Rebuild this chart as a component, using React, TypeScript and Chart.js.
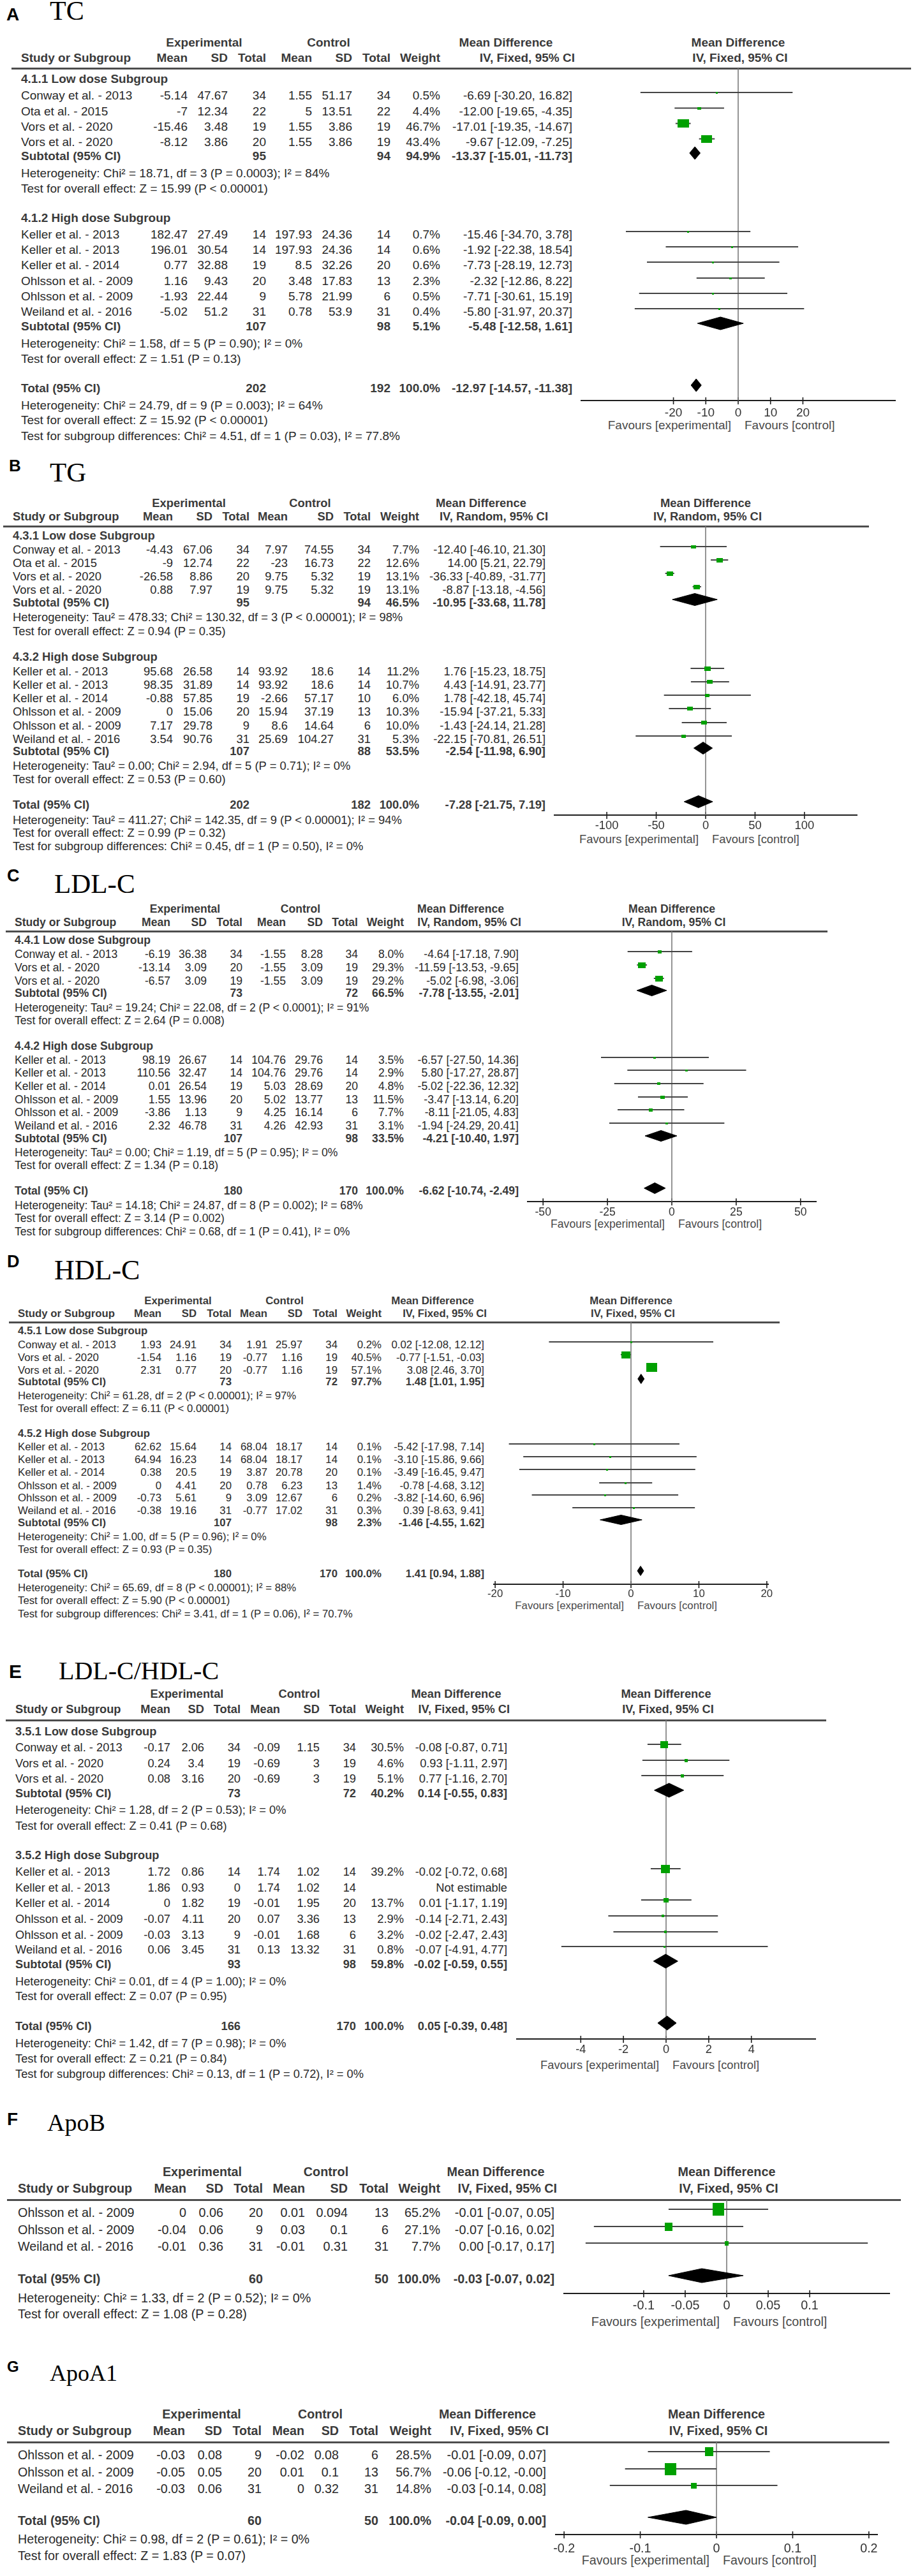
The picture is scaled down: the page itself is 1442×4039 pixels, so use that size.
import React, { useEffect, useRef } from 'react';
import { Chart, registerables } from 'chart.js';

Chart.register(...registerables);

// [name, expMean, expSD, expN, ctlMean, ctlSD, ctlN, weight%, MD, lower, upper]
type Study = [string, number, number, number, number, number, number, number | null, number | null, number | null, number | null];
// [expN, ctlN, weight%, MD, lower, upper]
type Summary = [number, number, number, number, number, number];

// ---------------- A: TC ----------------
const tcLowStudies: Study[] = [
  ['Conway et al. - 2013', -5.14, 47.67, 34, 1.55, 51.17, 34, 0.5, -6.69, -30.2, 16.82],
  ['Ota et al. - 2015', -7, 12.34, 22, 5, 13.51, 22, 4.4, -12.0, -19.65, -4.35],
  ['Vors et al. - 2020', -15.46, 3.48, 19, 1.55, 3.86, 19, 46.7, -17.01, -19.35, -14.67],
  ['Vors et al. - 2020', -8.12, 3.86, 20, 1.55, 3.86, 19, 43.4, -9.67, -12.09, -7.25],
];
const tcLowSubtotal: Summary = [95, 94, 94.9, -13.37, -15.01, -11.73];
const tcLowStats = ['Heterogeneity: Chi² = 18.71, df = 3 (P = 0.0003); I² = 84%', 'Test for overall effect: Z = 15.99 (P < 0.00001)'];
const tcHighStudies: Study[] = [
  ['Keller et al. - 2013', 182.47, 27.49, 14, 197.93, 24.36, 14, 0.7, -15.46, -34.7, 3.78],
  ['Keller et al. - 2013', 196.01, 30.54, 14, 197.93, 24.36, 14, 0.6, -1.92, -22.38, 18.54],
  ['Keller et al. - 2014', 0.77, 32.88, 19, 8.5, 32.26, 20, 0.6, -7.73, -28.19, 12.73],
  ['Ohlsson et al. - 2009', 1.16, 9.43, 20, 3.48, 17.83, 13, 2.3, -2.32, -12.86, 8.22],
  ['Ohlsson et al. - 2009', -1.93, 22.44, 9, 5.78, 21.99, 6, 0.5, -7.71, -30.61, 15.19],
  ['Weiland et al. - 2016', -5.02, 51.2, 31, 0.78, 53.9, 31, 0.4, -5.8, -31.97, 20.37],
];
const tcHighSubtotal: Summary = [107, 98, 5.1, -5.48, -12.58, 1.61];
const tcHighStats = ['Heterogeneity: Chi² = 1.58, df = 5 (P = 0.90); I² = 0%', 'Test for overall effect: Z = 1.51 (P = 0.13)'];
const tcTotal: Summary = [202, 192, 100.0, -12.97, -14.57, -11.38];
const tcTotalStats = ['Heterogeneity: Chi² = 24.79, df = 9 (P = 0.003); I² = 64%', 'Test for overall effect: Z = 15.92 (P < 0.00001)', 'Test for subgroup differences: Chi² = 4.51, df = 1 (P = 0.03), I² = 77.8%'];
const tcTicks = [-20, -10, 0, 10, 20];

// ---------------- B: TG ----------------
const tgLowStudies: Study[] = [
  ['Conway et al. - 2013', -4.43, 67.06, 34, 7.97, 74.55, 34, 7.7, -12.4, -46.1, 21.3],
  ['Ota et al. - 2015', -9, 12.74, 22, -23, 16.73, 22, 12.6, 14.0, 5.21, 22.79],
  ['Vors et al. - 2020', -26.58, 8.86, 20, 9.75, 5.32, 19, 13.1, -36.33, -40.89, -31.77],
  ['Vors et al. - 2020', 0.88, 7.97, 19, 9.75, 5.32, 19, 13.1, -8.87, -13.18, -4.56],
];
const tgLowSubtotal: Summary = [95, 94, 46.5, -10.95, -33.68, 11.78];
const tgLowStats = ['Heterogeneity: Tau² = 478.33; Chi² = 130.32, df = 3 (P < 0.00001); I² = 98%', 'Test for overall effect: Z = 0.94 (P = 0.35)'];
const tgHighStudies: Study[] = [
  ['Keller et al. - 2013', 95.68, 26.58, 14, 93.92, 18.6, 14, 11.2, 1.76, -15.23, 18.75],
  ['Keller et al. - 2013', 98.35, 31.89, 14, 93.92, 18.6, 14, 10.7, 4.43, -14.91, 23.77],
  ['Keller et al. - 2014', -0.88, 57.85, 19, -2.66, 57.17, 10, 6.0, 1.78, -42.18, 45.74],
  ['Ohlsson et al. - 2009', 0, 15.06, 20, 15.94, 37.19, 13, 10.3, -15.94, -37.21, 5.33],
  ['Ohlsson et al. - 2009', 7.17, 29.78, 9, 8.6, 14.64, 6, 10.0, -1.43, -24.14, 21.28],
  ['Weiland et al. - 2016', 3.54, 90.76, 31, 25.69, 104.27, 31, 5.3, -22.15, -70.81, 26.51],
];
const tgHighSubtotal: Summary = [107, 88, 53.5, -2.54, -11.98, 6.9];
const tgHighStats = ['Heterogeneity: Tau² = 0.00; Chi² = 2.94, df = 5 (P = 0.71); I² = 0%', 'Test for overall effect: Z = 0.53 (P = 0.60)'];
const tgTotal: Summary = [202, 182, 100.0, -7.28, -21.75, 7.19];
const tgTotalStats = ['Heterogeneity: Tau² = 411.27; Chi² = 142.35, df = 9 (P < 0.00001); I² = 94%', 'Test for overall effect: Z = 0.99 (P = 0.32)', 'Test for subgroup differences: Chi² = 0.45, df = 1 (P = 0.50), I² = 0%'];
const tgTicks = [-100, -50, 0, 50, 100];

// ---------------- C: LDL-C ----------------
const ldlLowStudies: Study[] = [
  ['Conway et al. - 2013', -6.19, 36.38, 34, -1.55, 8.28, 34, 8.0, -4.64, -17.18, 7.9],
  ['Vors et al. - 2020', -13.14, 3.09, 20, -1.55, 3.09, 19, 29.3, -11.59, -13.53, -9.65],
  ['Vors et al. - 2020', -6.57, 3.09, 19, -1.55, 3.09, 19, 29.2, -5.02, -6.98, -3.06],
];
const ldlLowSubtotal: Summary = [73, 72, 66.5, -7.78, -13.55, -2.01];
const ldlLowStats = ['Heterogeneity: Tau² = 19.24; Chi² = 22.08, df = 2 (P < 0.0001); I² = 91%', 'Test for overall effect: Z = 2.64 (P = 0.008)'];
const ldlHighStudies: Study[] = [
  ['Keller et al. - 2013', 98.19, 26.67, 14, 104.76, 29.76, 14, 3.5, -6.57, -27.5, 14.36],
  ['Keller et al. - 2013', 110.56, 32.47, 14, 104.76, 29.76, 14, 2.9, 5.8, -17.27, 28.87],
  ['Keller et al. - 2014', 0.01, 26.54, 19, 5.03, 28.69, 20, 4.8, -5.02, -22.36, 12.32],
  ['Ohlsson et al. - 2009', 1.55, 13.96, 20, 5.02, 13.77, 13, 11.5, -3.47, -13.14, 6.2],
  ['Ohlsson et al. - 2009', -3.86, 1.13, 9, 4.25, 16.14, 6, 7.7, -8.11, -21.05, 4.83],
  ['Weiland et al. - 2016', 2.32, 46.78, 31, 4.26, 42.93, 31, 3.1, -1.94, -24.29, 20.41],
];
const ldlHighSubtotal: Summary = [107, 98, 33.5, -4.21, -10.4, 1.97];
const ldlHighStats = ['Heterogeneity: Tau² = 0.00; Chi² = 1.19, df = 5 (P = 0.95); I² = 0%', 'Test for overall effect: Z = 1.34 (P = 0.18)'];
const ldlTotal: Summary = [180, 170, 100.0, -6.62, -10.74, -2.49];
const ldlTotalStats = ['Heterogeneity: Tau² = 14.18; Chi² = 24.87, df = 8 (P = 0.002); I² = 68%', 'Test for overall effect: Z = 3.14 (P = 0.002)', 'Test for subgroup differences: Chi² = 0.68, df = 1 (P = 0.41), I² = 0%'];
const ldlTicks = [-50, -25, 0, 25, 50];

// ---------------- D: HDL-C ----------------
const hdlLowStudies: Study[] = [
  ['Conway et al. - 2013', 1.93, 24.91, 34, 1.91, 25.97, 34, 0.2, 0.02, -12.08, 12.12],
  ['Vors et al. - 2020', -1.54, 1.16, 19, -0.77, 1.16, 19, 40.5, -0.77, -1.51, -0.03],
  ['Vors et al. - 2020', 2.31, 0.77, 20, -0.77, 1.16, 19, 57.1, 3.08, 2.46, 3.7],
];
const hdlLowSubtotal: Summary = [73, 72, 97.7, 1.48, 1.01, 1.95];
const hdlLowStats = ['Heterogeneity: Chi² = 61.28, df = 2 (P < 0.00001); I² = 97%', 'Test for overall effect: Z = 6.11 (P < 0.00001)'];
const hdlHighStudies: Study[] = [
  ['Keller et al. - 2013', 62.62, 15.64, 14, 68.04, 18.17, 14, 0.1, -5.42, -17.98, 7.14],
  ['Keller et al. - 2013', 64.94, 16.23, 14, 68.04, 18.17, 14, 0.1, -3.1, -15.86, 9.66],
  ['Keller et al. - 2014', 0.38, 20.5, 19, 3.87, 20.78, 20, 0.1, -3.49, -16.45, 9.47],
  ['Ohlsson et al. - 2009', 0, 4.41, 20, 0.78, 6.23, 13, 1.4, -0.78, -4.68, 3.12],
  ['Ohlsson et al. - 2009', -0.73, 5.61, 9, 3.09, 12.67, 6, 0.2, -3.82, -14.6, 6.96],
  ['Weiland et al. - 2016', -0.38, 19.16, 31, -0.77, 17.02, 31, 0.3, 0.39, -8.63, 9.41],
];
const hdlHighSubtotal: Summary = [107, 98, 2.3, -1.46, -4.55, 1.62];
const hdlHighStats = ['Heterogeneity: Chi² = 1.00, df = 5 (P = 0.96); I² = 0%', 'Test for overall effect: Z = 0.93 (P = 0.35)'];
const hdlTotal: Summary = [180, 170, 100.0, 1.41, 0.94, 1.88];
const hdlTotalStats = ['Heterogeneity: Chi² = 65.69, df = 8 (P < 0.00001); I² = 88%', 'Test for overall effect: Z = 5.90 (P < 0.00001)', 'Test for subgroup differences: Chi² = 3.41, df = 1 (P = 0.06), I² = 70.7%'];
const hdlTicks = [-20, -10, 0, 10, 20];

// ---------------- E: LDL-C/HDL-C ----------------
const ratioLowStudies: Study[] = [
  ['Conway et al. - 2013', -0.17, 2.06, 34, -0.09, 1.15, 34, 30.5, -0.08, -0.87, 0.71],
  ['Vors et al. - 2020', 0.24, 3.4, 19, -0.69, 3, 19, 4.6, 0.93, -1.11, 2.97],
  ['Vors et al. - 2020', 0.08, 3.16, 20, -0.69, 3, 19, 5.1, 0.77, -1.16, 2.7],
];
const ratioLowSubtotal: Summary = [73, 72, 40.2, 0.14, -0.55, 0.83];
const ratioLowStats = ['Heterogeneity: Chi² = 1.28, df = 2 (P = 0.53); I² = 0%', 'Test for overall effect: Z = 0.41 (P = 0.68)'];
const ratioHighStudies: Study[] = [
  ['Keller et al. - 2013', 1.72, 0.86, 14, 1.74, 1.02, 14, 39.2, -0.02, -0.72, 0.68],
  ['Keller et al. - 2013', 1.86, 0.93, 0, 1.74, 1.02, 14, null, null, null, null],
  ['Keller et al. - 2014', 0, 1.82, 19, -0.01, 1.95, 20, 13.7, 0.01, -1.17, 1.19],
  ['Ohlsson et al. - 2009', -0.07, 4.11, 20, 0.07, 3.36, 13, 2.9, -0.14, -2.71, 2.43],
  ['Ohlsson et al. - 2009', -0.03, 3.13, 9, -0.01, 1.68, 6, 3.2, -0.02, -2.47, 2.43],
  ['Weiland et al. - 2016', 0.06, 3.45, 31, 0.13, 13.32, 31, 0.8, -0.07, -4.91, 4.77],
];
const ratioHighSubtotal: Summary = [93, 98, 59.8, -0.02, -0.59, 0.55];
const ratioHighStats = ['Heterogeneity: Chi² = 0.01, df = 4 (P = 1.00); I² = 0%', 'Test for overall effect: Z = 0.07 (P = 0.95)'];
const ratioTotal: Summary = [166, 170, 100.0, 0.05, -0.39, 0.48];
const ratioTotalStats = ['Heterogeneity: Chi² = 1.42, df = 7 (P = 0.98); I² = 0%', 'Test for overall effect: Z = 0.21 (P = 0.84)', 'Test for subgroup differences: Chi² = 0.13, df = 1 (P = 0.72), I² = 0%'];
const ratioTicks = [-4, -2, 0, 2, 4];

// ---------------- F: ApoB ----------------
const apobStudies: Study[] = [
  ['Ohlsson et al. - 2009', 0, 0.06, 20, 0.01, 0.094, 13, 65.2, -0.01, -0.07, 0.05],
  ['Ohlsson et al. - 2009', -0.04, 0.06, 9, 0.03, 0.1, 6, 27.1, -0.07, -0.16, 0.02],
  ['Weiland et al. - 2016', -0.01, 0.36, 31, -0.01, 0.31, 31, 7.7, 0.0, -0.17, 0.17],
];
const apobTotal: Summary = [60, 50, 100.0, -0.03, -0.07, 0.02];
const apobTotalStats = ['Heterogeneity: Chi² = 1.33, df = 2 (P = 0.52); I² = 0%', 'Test for overall effect: Z = 1.08 (P = 0.28)'];
const apobTicks = [-0.1, -0.05, 0, 0.05, 0.1];

// ---------------- G: ApoA1 ----------------
const apoa1Studies: Study[] = [
  ['Ohlsson et al. - 2009', -0.03, 0.08, 9, -0.02, 0.08, 6, 28.5, -0.01, -0.09, 0.07],
  ['Ohlsson et al. - 2009', -0.05, 0.05, 20, 0.01, 0.1, 13, 56.7, -0.06, -0.12, -0],
  ['Weiland et al. - 2016', -0.03, 0.06, 31, 0, 0.32, 31, 14.8, -0.03, -0.14, 0.08],
];
const apoa1Total: Summary = [60, 50, 100.0, -0.04, -0.09, 0.0];
const apoa1TotalStats = ['Heterogeneity: Chi² = 0.98, df = 2 (P = 0.61); I² = 0%', 'Test for overall effect: Z = 1.83 (P = 0.07)'];
const apoa1Ticks = [-0.2, -0.1, 0, 0.1, 0.2];

// ---------------- rendering ----------------
const SANS = '"Liberation Sans", Arial, Helvetica, sans-serif';
const SERIF = '"Liberation Serif", "Times New Roman", Times, serif';
const GREEN = '#00a000';
const TEXT = '#2a2a2a';
const HEAD = '#3a3a3a';

interface Group { title?: string; studies: Study[]; subtotal?: Summary; stats: string[] }
interface PanelData { letter: string; title: string; ciLabel: string; groups: Group[]; total: Summary; totalStats: string[]; ticks: number[] }
interface GroupRows { titleY?: number; studyY: number[]; subY?: number; statY: number[] }
interface PanelLayout {
  letterX: number; letterY: number; letterSize: number;
  titleX: number; titleY: number; titleSize: number;
  font: number; cols: number[]; head: number[]; headY: number[];
  lineY: number; lineX: number[];
  zeroX: number; unit: number; xMin: number; xMax: number;
  axisY: number; tickY: number; favY: number;
  sqC: number; sqAsp: number; dh: number; markOff: number;
  rows: GroupRows[]; totalY: number; totalStatY: number[];
}

function f2(v: number) { return (Object.is(v, -0) ? '-' : '') + v.toFixed(2); }
function ciText(md: number, lo: number, hi: number) { return `${f2(md)} [${f2(lo)}, ${f2(hi)}]`; }
function pct(w: number) { return w.toFixed(1) + '%'; }

function Txt(props: { x: number; y: number; s: string; align?: string; bold?: boolean; size: number; color?: string; family?: string }) {
  const { x, y, s, align = 'left', bold = false, size, color = TEXT, family = SANS } = props;
  const W = 900;
  const st: any = {
    position: 'absolute', top: y - size, height: size * 2, lineHeight: `${size * 2}px`,
    fontSize: size, fontFamily: family, fontWeight: bold ? 700 : 400, color, whiteSpace: 'nowrap', margin: 0, padding: 0,
  };
  if (align === 'left') st.left = x;
  else if (align === 'right') { st.left = x - W; st.width = W; st.textAlign = 'right'; }
  else { st.left = x - W / 2; st.width = W; st.textAlign = 'center'; }
  return <div style={st}>{s}</div>;
}

const PAD = 40;
const AXH = 50;

function ForestPanel({ d, L }: { d: PanelData; L: PanelLayout }) {
  const ref = useRef<HTMLCanvasElement | null>(null);
  const axL = Math.round(L.zeroX + L.xMin * L.unit);
  const axR = Math.round(L.zeroX + L.xMax * L.unit);
  const cw = axR - axL + 2 * PAD;
  const ch = L.axisY - L.lineY + AXH;

  useEffect(() => {
    const cv = ref.current;
    if (!cv) return;
    const datasets: any[] = [];
    const sqPts: { x: number; y: number }[] = [];
    const sqImgs: HTMLCanvasElement[] = [];
    const diamonds: [Summary, number][] = [];
    const mk = (w: number, h: number) => {
      const c = document.createElement('canvas');
      c.width = w; c.height = h;
      const g = c.getContext('2d');
      if (g) { g.fillStyle = GREEN; g.fillRect(0, 0, w, h); }
      return c;
    };
    // zero line
    datasets.push({ data: [{ x: 0, y: L.lineY }, { x: 0, y: L.axisY }], showLine: true, borderColor: '#7a7a7a', borderWidth: 1.6, pointRadius: 0, order: 3, clip: false });
    // tick marks
    d.ticks.forEach((t) => {
      datasets.push({ data: [{ x: t, y: L.axisY - 5 }, { x: t, y: L.axisY + 6 }], showLine: true, borderColor: '#1e1e1e', borderWidth: 1.6, pointRadius: 0, order: 3, clip: false });
    });
    d.groups.forEach((g, gi) => {
      const R = L.rows[gi];
      g.studies.forEach((s, si) => {
        const w = s[7], md = s[8], lo = s[9], hi = s[10];
        if (w == null || md == null || lo == null || hi == null) return;
        const y = R.studyY[si] + L.markOff;
        datasets.push({ data: [{ x: lo, y }, { x: hi, y }], showLine: true, borderColor: '#444', borderWidth: 2, pointRadius: 0, order: 2, clip: false });
        const sw = Math.max(3, Math.round(L.sqC * Math.sqrt(w)));
        const sh = Math.max(3, Math.round(sw * L.sqAsp));
        sqPts.push({ x: md, y });
        sqImgs.push(mk(sw, sh));
      });
      if (g.subtotal && R.subY != null) diamonds.push([g.subtotal, R.subY + L.markOff]);
    });
    diamonds.push([d.total, L.totalY + L.markOff]);
    datasets.push({ data: sqPts, pointStyle: sqImgs, pointRadius: 4, showLine: false, order: 0, clip: false, backgroundColor: GREEN, borderWidth: 0 });
    diamonds.forEach(([sm, y]) => {
      const md = sm[3], lo = sm[4], hi = sm[5];
      datasets.push({
        data: [{ x: lo, y }, { x: md, y: y - L.dh }, { x: hi, y }, { x: md, y: y + L.dh }, { x: lo, y }],
        showLine: true, fill: 'shape', backgroundColor: '#000', borderColor: '#000', borderWidth: 1, pointRadius: 0, order: 0, clip: false,
      });
    });

    const chart = new Chart(cv, {
      type: 'scatter',
      data: { datasets },
      options: {
        responsive: false,
        animation: false,
        events: [],
        layout: { padding: { left: PAD, right: PAD, top: 0, bottom: 0 }, autoPadding: false },
        plugins: { legend: { display: false }, tooltip: { enabled: false }, title: { display: false } },
        scales: {
          x: {
            type: 'linear', position: 'bottom', min: L.xMin, max: L.xMax, bounds: 'data',
            afterBuildTicks: (s: any) => { s.ticks = d.ticks.map((v) => ({ value: v })); },
            afterFit: (s: any) => { s.height = AXH; s.paddingLeft = 0; s.paddingRight = 0; },
            grid: { display: false, drawTicks: false },
            border: { display: true, color: '#1e1e1e', width: 2 },
            ticks: {
              autoSkip: false, maxRotation: 0, minRotation: 0,
              padding: L.tickY - L.axisY - 0.6 * L.font,
              color: '#333', font: { family: SANS, size: L.font },
              callback: (v: any) => String(v),
            },
          },
          y: { type: 'linear', display: false, min: L.lineY, max: L.axisY, reverse: true, bounds: 'data' },
        },
      } as any,
    });
    return () => chart.destroy();
  }, []);

  const t: any[] = [];
  let k = 0;
  const put = (x: number, y: number, s: string, align: string, bold = false, color?: string) =>
    t.push(<Txt key={k++} x={x} y={y} s={s} align={align} bold={bold} size={L.font} color={color || (bold ? HEAD : TEXT)} />);
  const c = L.cols;

  t.push(<Txt key={k++} x={L.letterX} y={L.letterY} s={d.letter} bold size={L.letterSize} color="#000" />);
  t.push(<Txt key={k++} x={L.titleX} y={L.titleY} s={d.title} size={L.titleSize} color="#000" family={SERIF} />);

  const [h1, h2] = L.headY;
  put(L.head[0], h1, 'Experimental', 'center', true);
  put(L.head[1], h1, 'Control', 'center', true);
  put(L.head[2], h1, 'Mean Difference', 'center', true);
  put(L.zeroX, h1, 'Mean Difference', 'center', true);
  put(c[0], h2, 'Study or Subgroup', 'left', true);
  put(c[1], h2, 'Mean', 'right', true);
  put(c[2], h2, 'SD', 'right', true);
  put(c[3], h2, 'Total', 'right', true);
  put(c[4], h2, 'Mean', 'right', true);
  put(c[5], h2, 'SD', 'right', true);
  put(c[6], h2, 'Total', 'right', true);
  put(c[7], h2, 'Weight', 'right', true);
  put(c[8] + 4, h2, d.ciLabel, 'right', true);
  put(L.zeroX + 3, h2, d.ciLabel, 'center', true);

  const studyRow = (s: Study, y: number) => {
    put(c[0], y, s[0], 'left');
    for (let j = 1; j <= 6; j++) put(c[j], y, String(s[j]), 'right');
    if (s[7] != null) put(c[7], y, pct(s[7] as number), 'right');
    put(c[8], y, s[8] == null ? 'Not estimable' : ciText(s[8] as number, s[9] as number, s[10] as number), 'right');
  };
  const sumRow = (label: string, sm: Summary, y: number) => {
    put(c[0], y, label, 'left', true);
    put(c[3], y, String(sm[0]), 'right', true);
    put(c[6], y, String(sm[1]), 'right', true);
    put(c[7], y, pct(sm[2]), 'right', true);
    put(c[8], y, ciText(sm[3], sm[4], sm[5]), 'right', true);
  };

  d.groups.forEach((g, gi) => {
    const R = L.rows[gi];
    if (g.title && R.titleY != null) put(c[0], R.titleY, g.title, 'left', true);
    g.studies.forEach((s, si) => studyRow(s, R.studyY[si]));
    if (g.subtotal && R.subY != null) sumRow('Subtotal (95% CI)', g.subtotal, R.subY);
    g.stats.forEach((s, si) => put(c[0], R.statY[si], s, 'left'));
  });
  sumRow('Total (95% CI)', d.total, L.totalY);
  d.totalStats.forEach((s, si) => put(c[0], L.totalStatY[si], s, 'left'));

  put(L.zeroX - 11, L.favY, 'Favours [experimental]', 'right', false, '#4a4a4a');
  put(L.zeroX + 10, L.favY, 'Favours [control]', 'left', false, '#4a4a4a');

  return (
    <React.Fragment>
      {t}
      <div style={{ position: 'absolute', left: L.lineX[0], width: L.lineX[1] - L.lineX[0], top: L.lineY - 1.5, height: 3, background: '#4d4d4d' }} />
      <canvas
        ref={ref}
        width={cw}
        height={ch}
        style={{ position: 'absolute', left: axL - PAD, top: L.lineY, width: cw, height: ch, display: 'block' }}
      />
    </React.Fragment>
  );
}

// ---------------- panel definitions ----------------
const panelA: PanelData = {
  letter: 'A', title: 'TC', ciLabel: 'IV, Fixed, 95% CI', ticks: tcTicks,
  groups: [
    { title: '4.1.1 Low dose Subgroup', studies: tcLowStudies, subtotal: tcLowSubtotal, stats: tcLowStats },
    { title: '4.1.2 High dose Subgroup', studies: tcHighStudies, subtotal: tcHighSubtotal, stats: tcHighStats },
  ],
  total: tcTotal, totalStats: tcTotalStats,
};
const layoutA: PanelLayout = {
  letterX: 10, letterY: 23, letterSize: 28, titleX: 78, titleY: 17, titleSize: 42,
  font: 19, cols: [33, 294, 357, 417, 489, 552, 612, 690, 897], head: [320, 515, 793], headY: [67, 90.5],
  lineY: 107, lineX: [18, 1428],
  zeroX: 1157, unit: 5.08, xMin: -48.5, xMax: 48.5, axisY: 628, tickY: 648, favY: 667,
  sqC: 2.63, sqAsp: 0.72, dh: 10, markOff: -5,
  rows: [
    { titleY: 124, studyY: [150, 174.5, 198.6, 222.7], subY: 245, statY: [272, 296] },
    { titleY: 342, studyY: [368, 392, 416, 441, 465, 489], subY: 512, statY: [539, 563] },
  ],
  totalY: 609, totalStatY: [636, 659, 684],
};

const panelB: PanelData = {
  letter: 'B', title: 'TG', ciLabel: 'IV, Random, 95% CI', ticks: tgTicks,
  groups: [
    { title: '4.3.1 Low dose Subgroup', studies: tgLowStudies, subtotal: tgLowSubtotal, stats: tgLowStats },
    { title: '4.3.2 High dose Subgroup', studies: tgHighStudies, subtotal: tgHighSubtotal, stats: tgHighStats },
  ],
  total: tgTotal, totalStats: tgTotalStats,
};
const layoutB: PanelLayout = {
  letterX: 14, letterY: 730, letterSize: 26, titleX: 78, titleY: 741, titleSize: 43,
  font: 18.4, cols: [20, 271, 333, 391, 451, 523, 581, 657, 855], head: [296, 486, 754], headY: [789.6, 810.6],
  lineY: 825, lineX: [5, 1362],
  zeroX: 1106, unit: 1.55, xMin: -153, xMax: 153, axisY: 1278, tickY: 1295, favY: 1316,
  sqC: 2.9, sqAsp: 0.65, dh: 9.5, markOff: -5,
  rows: [
    { titleY: 840, studyY: [862, 883, 904, 925], subY: 945, statY: [968, 990] },
    { titleY: 1030, studyY: [1053, 1074, 1095, 1116, 1138, 1159], subY: 1178, statY: [1201, 1222] },
  ],
  totalY: 1262, totalStatY: [1286, 1306, 1327],
};

const panelC: PanelData = {
  letter: 'C', title: 'LDL-C', ciLabel: 'IV, Random, 95% CI', ticks: ldlTicks,
  groups: [
    { title: '4.4.1 Low dose Subgroup', studies: ldlLowStudies, subtotal: ldlLowSubtotal, stats: ldlLowStats },
    { title: '4.4.2 High dose Subgroup', studies: ldlHighStudies, subtotal: ldlHighSubtotal, stats: ldlHighStats },
  ],
  total: ldlTotal, totalStats: ldlTotalStats,
};
const layoutC: PanelLayout = {
  letterX: 11, letterY: 1373, letterSize: 27, titleX: 85, titleY: 1386, titleSize: 43,
  font: 17.6, cols: [23, 267, 324, 380, 448, 506, 561, 633, 813], head: [290, 471, 722], headY: [1426, 1446.5],
  lineY: 1460, lineX: [9, 1297],
  zeroX: 1053, unit: 4.04, xMin: -56, xMax: 56, axisY: 1884, tickY: 1901, favY: 1920,
  sqC: 2.2, sqAsp: 0.75, dh: 8.5, markOff: -5,
  rows: [
    { titleY: 1475, studyY: [1497, 1518, 1539], subY: 1558, statY: [1581, 1601] },
    { titleY: 1641, studyY: [1663, 1683, 1704, 1725, 1745, 1766], subY: 1786, statY: [1808, 1828] },
  ],
  totalY: 1868, totalStatY: [1891, 1911, 1932],
};

const panelD: PanelData = {
  letter: 'D', title: 'HDL-C', ciLabel: 'IV, Fixed, 95% CI', ticks: hdlTicks,
  groups: [
    { title: '4.5.1 Low dose Subgroup', studies: hdlLowStudies, subtotal: hdlLowSubtotal, stats: hdlLowStats },
    { title: '4.5.2 High dose Subgroup', studies: hdlHighStudies, subtotal: hdlHighSubtotal, stats: hdlHighStats },
  ],
  total: hdlTotal, totalStats: hdlTotalStats,
};
const layoutD: PanelLayout = {
  letterX: 11, letterY: 1977.5, letterSize: 27, titleX: 85, titleY: 1992, titleSize: 44,
  font: 16.8, cols: [28, 253, 308, 363, 419, 474, 529, 598, 759], head: [279, 446, 678], headY: [2039.4, 2059.3],
  lineY: 2073, lineX: [14, 1222],
  zeroX: 989, unit: 10.63, xMin: -20.2, xMax: 20.2, axisY: 2484, tickY: 2499, favY: 2518,
  sqC: 2.25, sqAsp: 0.82, dh: 7.5, markOff: -5,
  rows: [
    { titleY: 2087, studyY: [2109, 2129, 2149], subY: 2167, statY: [2189, 2209] },
    { titleY: 2248, studyY: [2269, 2289, 2309, 2330, 2349, 2369], subY: 2388, statY: [2410, 2430] },
  ],
  totalY: 2468, totalStatY: [2490, 2510, 2531],
};

const panelE: PanelData = {
  letter: 'E', title: 'LDL-C/HDL-C', ciLabel: 'IV, Fixed, 95% CI', ticks: ratioTicks,
  groups: [
    { title: '3.5.1 Low dose Subgroup', studies: ratioLowStudies, subtotal: ratioLowSubtotal, stats: ratioLowStats },
    { title: '3.5.2 High dose Subgroup', studies: ratioHighStudies, subtotal: ratioHighSubtotal, stats: ratioHighStats },
  ],
  total: ratioTotal, totalStats: ratioTotalStats,
};
const layoutE: PanelLayout = {
  letterX: 14, letterY: 2620.5, letterSize: 30, titleX: 92, titleY: 2619.5, titleSize: 40,
  font: 18.3, cols: [24, 267, 320, 377, 439, 501, 558, 633, 795], head: [293, 469, 715], headY: [2656, 2680],
  lineY: 2697, lineX: [9, 1295],
  zeroX: 1044, unit: 33.4, xMin: -7, xMax: 7, axisY: 3197, tickY: 3214, favY: 3238,
  sqC: 2.2, sqAsp: 0.9, dh: 11, markOff: -5,
  rows: [
    { titleY: 2715, studyY: [2740, 2765, 2789], subY: 2812, statY: [2838, 2863] },
    { titleY: 2909, studyY: [2935, 2960, 2984, 3009, 3034, 3057], subY: 3080, statY: [3107, 3130] },
  ],
  totalY: 3177, totalStatY: [3204, 3228, 3252],
};

const panelF: PanelData = {
  letter: 'F', title: 'ApoB', ciLabel: 'IV, Fixed, 95% CI', ticks: apobTicks,
  groups: [{ studies: apobStudies, stats: [] }],
  total: apobTotal, totalStats: apobTotalStats,
};
const layoutF: PanelLayout = {
  letterX: 11, letterY: 3323, letterSize: 28, titleX: 74, titleY: 3328, titleSize: 38,
  font: 19.8, cols: [28, 292, 350, 412, 478, 545, 609, 690, 869], head: [317, 511, 777], headY: [3406, 3432],
  lineY: 3449, lineX: [11, 1412],
  zeroX: 1139, unit: 1303, xMin: -0.196, xMax: 0.196, axisY: 3596, tickY: 3616, favY: 3641,
  sqC: 2.23, sqAsp: 1.1, dh: 11, markOff: -6,
  rows: [{ studyY: [3470, 3497, 3523], statY: [] }],
  totalY: 3574, totalStatY: [3604, 3629],
};

const panelG: PanelData = {
  letter: 'G', title: 'ApoA1', ciLabel: 'IV, Fixed, 95% CI', ticks: apoa1Ticks,
  groups: [{ studies: apoa1Studies, stats: [] }],
  total: apoa1Total, totalStats: apoa1TotalStats,
};
const layoutG: PanelLayout = {
  letterX: 11, letterY: 3711, letterSize: 24, titleX: 78, titleY: 3721, titleSize: 36,
  font: 19.7, cols: [28, 290, 348, 410, 477, 531, 593, 676, 856], head: [316, 502, 764], headY: [3786, 3812],
  lineY: 3829, lineX: [11, 1394],
  zeroX: 1123, unit: 1193, xMin: -0.211, xMax: 0.211, axisY: 3974, tickY: 3997, favY: 4015,
  sqC: 2.35, sqAsp: 1.05, dh: 11, markOff: -6,
  rows: [{ studyY: [3850, 3877, 3903], statY: [] }],
  totalY: 3953, totalStatY: [3982, 4008],
};

const panels: { d: PanelData; L: PanelLayout }[] = [
  { d: panelA, L: layoutA },
  { d: panelB, L: layoutB },
  { d: panelC, L: layoutC },
  { d: panelD, L: layoutD },
  { d: panelE, L: layoutE },
  { d: panelF, L: layoutF },
  { d: panelG, L: layoutG },
];

export default function App() {
  return (
    <div style={{ position: 'absolute', left: 0, top: 0, width: 1442, height: 4039, background: '#fff', overflow: 'hidden' }}>
      <style>{'body{margin:0;background:#fff}'}</style>
      {panels.map((p, i) => (
        <ForestPanel key={i} d={p.d} L={p.L} />
      ))}
    </div>
  );
}
